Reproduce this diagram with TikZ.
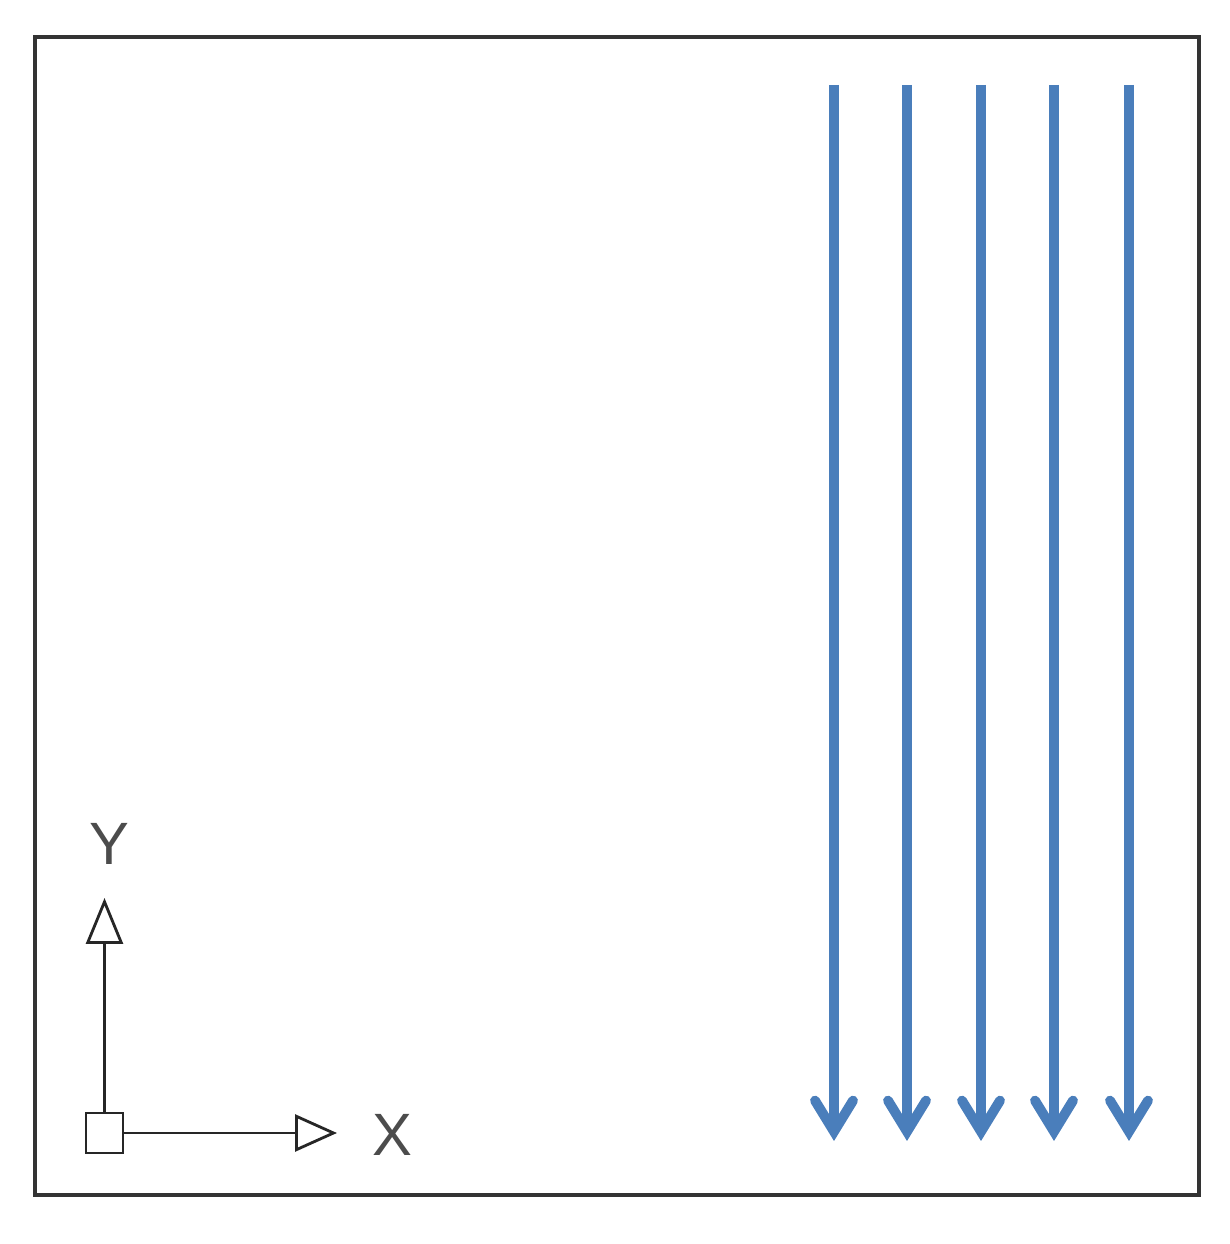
\documentclass[tikz,border=0pt]{standalone}
\usepackage{fontspec}
\setsansfont{Liberation Sans}
\usepackage{tikz}
\usetikzlibrary{arrows.meta,calc,positioning}
\definecolor{charge}{RGB}{74,126,187}

\begin{document}
\begin{tikzpicture}[
		cadre/.style={draw=black!80, line width=0.9pt},
		fleche/.style={draw=charge, line width=2.8pt, -{Straight Barb[length=0.31cm, width=0.38cm, line cap=round, line join=miter]}},
		axe/.style={draw=black!85, line width=0.8pt, -{Triangle[open, length=#1, width=0.37cm, fill=white]}},
		origine/.style={draw=black!85, line width=0.8pt, fill=white, minimum width=0.37cm, minimum height=0.4cm, inner sep=0pt},
		lettre/.style={font=\sffamily\fontsize{17}{17}\selectfont, text=black!70, inner sep=0pt}
		]
		\useasboundingbox (0,0) rectangle (12.30,12.44);
		
		% Le cadre
		\draw[cadre] (0.35,0.49) rectangle (11.99,12.07);
		
		% Les charges
		\foreach \x [count=\i] in {8.34, 9.07, 9.81, 10.54, 11.29} {
			\coordinate (h\i) at (\x, 11.59);
			\coordinate (b\i) at (\x, 1.03);
			\draw[fleche] (h\i) -- (b\i);
		}
		
		% Le repere
		\node[origine] (O) at (1.045, 1.11) {};
		\coordinate (Yb) at (1.045, 3.46);
		\coordinate (Xb) at (3.37, 1.11);
		\draw[axe=0.46cm] (O.north) -- (Yb);
		\draw[axe=0.42cm] (O.east) -- (Xb);
		\node[lettre] (Y) at (1.09, 4.00) {Y};
		\node[lettre] (X) at (3.92, 1.09) {X};
	\end{tikzpicture}
\end{document}
